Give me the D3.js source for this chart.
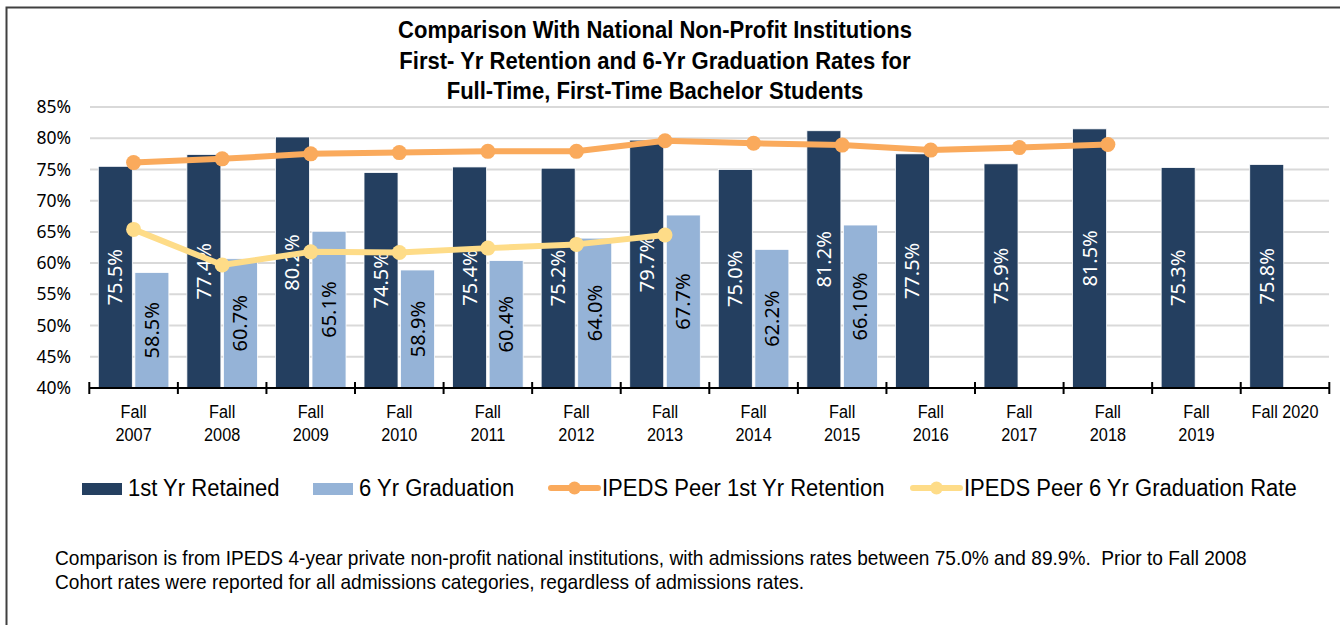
<!DOCTYPE html>
<html>
<head>
<meta charset="utf-8">
<script src="https://cdn.jsdelivr.net/npm/d3@7"></script>
<style>
  body { margin: 0; background: #fff; }
  .narrow { font-family: "Liberation Sans", Arial, sans-serif; fill: #000; white-space: pre; }
  .calib { font-family: "Noto Sans", "Open Sans", sans-serif; }
</style>
</head>
<body>
<svg id="chart"></svg>
<script>
// chart values
const categories = ["Fall 2007", "Fall 2008", "Fall 2009", "Fall 2010", "Fall 2011", "Fall 2012", "Fall 2013",
  "Fall 2014", "Fall 2015", "Fall 2016", "Fall 2017", "Fall 2018", "Fall 2019", "Fall 2020"];
const tickLines = [["Fall", "2007"], ["Fall", "2008"], ["Fall", "2009"], ["Fall", "2010"], ["Fall", "2011"],
  ["Fall", "2012"], ["Fall", "2013"], ["Fall", "2014"], ["Fall", "2015"], ["Fall", "2016"], ["Fall", "2017"],
  ["Fall", "2018"], ["Fall", "2019"], ["Fall 2020"]];
const retained = [75.5, 77.4, 80.2, 74.5, 75.4, 75.2, 79.7, 75.0, 81.2, 77.5, 75.9, 81.5, 75.3, 75.8];
const graduation = [58.5, 60.7, 65.1, 58.9, 60.4, 64.0, 67.7, 62.2, 66.1, null, null, null, null, null];
const graduationLabels = ["58.5%", "60.7%", "65.1%", "58.9%", "60.4%", "64.0%", "67.7%", "62.2%", "66.10%"];
const peerRetention = [76.1, 76.7, 77.5, 77.7, 77.9, 77.9, 79.6, 79.2, 78.9, 78.1, 78.5, 79.0, null, null];
const peerGraduation = [65.4, 59.7, 61.8, 61.7, 62.4, 63.0, 64.5, null, null, null, null, null, null, null];
const yTicks = [40, 45, 50, 55, 60, 65, 70, 75, 80, 85];
const seriesNames = ["1st Yr Retained", "6 Yr Graduation", "IPEDS Peer 1st Yr Retention", "IPEDS Peer 6 Yr Graduation Rate"];
const titleLines = ["Comparison With National Non-Profit Institutions",
  "First- Yr Retention and 6-Yr Graduation Rates for",
  "Full-Time, First-Time Bachelor Students"];
const footnoteLines = ["Comparison is from IPEDS 4-year private non-profit national institutions, with admissions rates between 75.0% and 89.9%.  Prior to Fall 2008",
  "Cohort rates were reported for all admissions categories, regardless of admissions rates."];

const colors = ["#243F60", "#95B3D7", "#FAAA5C", "#FEDC88"];
const squeeze = 0.93; // the reference text is slightly condensed

const width = 1340, height = 625;
const svg = d3.select("#chart").attr("width", width).attr("height", height);

// outer frame
svg.append("rect").attr("x", 6.5).attr("y", 7.5).attr("width", 1400).attr("height", 700)
  .attr("fill", "none").attr("stroke", "#404040").attr("stroke-width", 2);

function condensed(parent, x, y, str, size, anchor, weight, sq) {
  return parent.append("text").attr("class", "narrow")
    .attr("transform", `translate(${x},${y}) scale(${sq || squeeze},1)`)
    .attr("text-anchor", anchor).attr("font-size", size)
    .attr("font-weight", weight || "normal").text(str);
}

// title
titleLines.forEach((t, i) => condensed(svg, 655, 38 + i * 30.5, t, 23.7, "middle", "bold"));

const x = d3.scaleBand().domain(categories).range([89.3, 1329.3]);
const y = d3.scaleLinear().domain([40, 85]).range([388, 107]);
const inner = d3.scaleBand().domain([0, 1]).range([9, x.bandwidth() - 9]).paddingInner(0.07);

// gridlines
svg.append("g").selectAll("line").data(yTicks.slice(1)).join("line")
  .attr("x1", 90).attr("x2", 1329)
  .attr("y1", d => y(d)).attr("y2", d => y(d))
  .attr("stroke", "#D9D9D9").attr("stroke-width", 2);

// y tick labels
svg.append("g").selectAll("text").data(yTicks).join("text").attr("class", "calib")
  .attr("x", 71).attr("y", d => y(d)).attr("dy", "0.35em")
  .attr("text-anchor", "end").attr("font-size", 17.5).attr("fill", "#000")
  .text(d => d + "%");

// bars
const bars = svg.append("g");
bars.selectAll("rect.ret").data(retained).join("rect").attr("class", "ret")
  .attr("x", (d, i) => x(categories[i]) + inner(0)).attr("width", inner.bandwidth())
  .attr("y", d => y(d)).attr("height", d => y(40) - y(d))
  .attr("fill", colors[0]).attr("stroke", "#fff").attr("stroke-width", 0.8);
bars.selectAll("rect.grad").data(graduation.map((v, i) => ({v, i})).filter(d => d.v != null)).join("rect")
  .attr("class", "grad")
  .attr("x", d => x(categories[d.i]) + inner(1)).attr("width", inner.bandwidth())
  .attr("y", d => y(d.v)).attr("height", d => y(40) - y(d.v))
  .attr("fill", colors[1]).attr("stroke", "#fff").attr("stroke-width", 0.8);

// bar labels, rotated, centred in bar
const labels = svg.append("g");
labels.selectAll("text.ret").data(retained).join("text").attr("class", "calib")
  .attr("transform", (d, i) => `translate(${x(categories[i]) + inner(0) + inner.bandwidth() / 2},${(y(d) + y(40)) / 2}) rotate(-90)`)
  .attr("text-anchor", "middle").attr("dy", "0.35em").attr("font-size", 20).attr("fill", "#fff")
  .text(d => d.toFixed(1) + "%");
labels.selectAll("text.grad").data(graduation.map((v, i) => ({v, i})).filter(d => d.v != null)).join("text")
  .attr("class", "calib")
  .attr("transform", d => `translate(${x(categories[d.i]) + inner(1) + inner.bandwidth() / 2},${(y(d.v) + y(40)) / 2}) rotate(-90)`)
  .attr("text-anchor", "middle").attr("dy", "0.35em").attr("font-size", 20).attr("fill", "#000")
  .text(d => graduationLabels[d.i]);

// x axis
const xAxis = svg.append("g");
xAxis.append("line").attr("x1", 89.3).attr("x2", 1329.3).attr("y1", y(40)).attr("y2", y(40))
  .attr("stroke", "#000").attr("stroke-width", 2);
xAxis.selectAll("line.tick").data(categories.concat([null])).join("line").attr("class", "tick")
  .attr("x1", (d, i) => 89.3 + i * x.step()).attr("x2", (d, i) => 89.3 + i * x.step())
  .attr("y1", y(40) - 6).attr("y2", y(40) + 6).attr("stroke", "#000").attr("stroke-width", 2);
categories.forEach((c, i) => {
  tickLines[i].forEach((t, j) => condensed(xAxis, x(c) + x.bandwidth() / 2, 418 + j * 23, t, 17.5, "middle"));
});

// lines
const line = d3.line().defined(d => d.v != null)
  .x(d => x(categories[d.i]) + x.bandwidth() / 2).y(d => y(d.v));
[[peerRetention, colors[2]], [peerGraduation, colors[3]]].forEach(([vals, col]) => {
  const pts = vals.map((v, i) => ({v, i}));
  svg.append("path").datum(pts).attr("d", line)
    .attr("fill", "none").attr("stroke", col).attr("stroke-width", 6).attr("stroke-linejoin", "round");
  svg.append("g").selectAll("circle").data(pts.filter(d => d.v != null)).join("circle")
    .attr("cx", d => x(categories[d.i]) + x.bandwidth() / 2).attr("cy", d => y(d.v))
    .attr("r", 7.5).attr("fill", col);
});

// legend
const legend = svg.append("g");
const legendX = [82, 313, 551, 913];
seriesNames.forEach((name, i) => {
  const lx = legendX[i];
  if (i < 2) {
    legend.append("rect").attr("x", lx).attr("y", 483).attr("width", 40).attr("height", 12).attr("fill", colors[i]);
  } else {
    legend.append("line").attr("x1", lx).attr("x2", lx + 47).attr("y1", 488).attr("y2", 488)
      .attr("stroke", colors[i]).attr("stroke-width", 6).attr("stroke-linecap", "round");
    legend.append("circle").attr("cx", lx + 23.5).attr("cy", 488).attr("r", 6.5).attr("fill", colors[i]);
  }
  condensed(legend, lx + (i < 2 ? 46 : 51), 496, name, 23.7, "start");
});

// footnote
footnoteLines.forEach((t, i) => condensed(svg, 55, 565 + i * 24, t, 20, "start", "normal", 0.955));
</script>
</body>
</html>
